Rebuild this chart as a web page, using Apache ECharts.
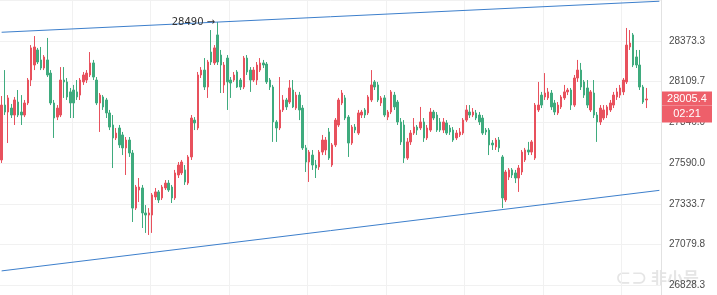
<!DOCTYPE html>
<html><head><meta charset="utf-8">
<script src="https://cdn.jsdelivr.net/npm/echarts@6/dist/echarts.min.js"></script>
<style>html,body{margin:0;padding:0;background:#fff;overflow:hidden;height:295px}#c{width:717px;height:326px}</style>
</head><body><div id="c"></div>
<script>
const opens = [27620,27967,27923,27948,27904,27986,27923,27904,27980,28125,
28220,28315,28252,28201,28252,28169,27980,27891,27904,28125,
28113,28050,28062,28050,28030,28113,28125,28157,28233,28125,
27980,28018,27999,27917,27841,27759,27822,27778,27696,27746,
27664,27316,27430,27443,27285,27272,27272,27386,27418,27380,
27443,27474,27449,27380,27525,27538,27557,27474,27639,27872,
27822,28157,28188,28081,28302,28233,28410,28283,28094,28264,
28125,28125,28176,28125,28081,28264,28188,28125,28125,28188,
28233,28226,28125,28081,27860,27822,27936,27999,27986,28062,
27948,28030,27948,27696,27607,27651,27588,27576,27670,27683,
27797,27588,27715,27841,27980,28012,27891,27727,27828,27790,
27904,27936,27917,27999,28113,28094,27980,28012,27891,27923,
28030,27986,27860,27841,27632,27734,27790,27828,27822,27860,
27759,27809,27923,27904,27860,27809,27854,27822,27809,27759,
27778,27790,27872,27923,27904,27917,27904,27885,27809,27809,
27727,27702,27746,27639,27367,27512,27557,27538,27506,27544,
27620,27683,27670,27632,27936,28030,28018,28012,28043,27980,
27917,27955,28012,28050,28062,27967,28138,28188,28113,28075,
27936,28043,27904,27860,27885,27904,27936,27967,28018,28030,
28050,28113,28334,28410,28271,28220,28081,27999];
const closes = [27967,27923,28012,27904,27999,27904,27904,27980,28125,28328,
28334,28239,28201,28271,28157,27980,27885,27948,28125,28113,
28018,27980,27980,28018,28125,28157,28169,28233,28144,27980,
28030,27955,27917,27828,27759,27790,27715,27696,27746,27664,
27316,27449,27449,27285,27272,27285,27399,27418,27367,27449,
27474,27430,27380,27538,27588,27607,27481,27639,27885,27854,
28157,28188,28081,28239,28239,28328,28239,28220,28220,28113,
28106,28157,28081,28081,28264,28176,28125,28188,28220,28233,
28220,28113,28081,27860,27822,27936,27999,27955,28075,27955,
28030,27936,27696,27607,27670,27588,27569,27670,27746,27746,
27632,27715,27872,27999,28043,27885,27727,27828,27809,27917,
27923,27904,28018,28094,28081,27999,28012,27904,27923,28050,
27955,27860,27734,27632,27734,27790,27828,27809,27860,27759,
27822,27923,27885,27809,27809,27860,27790,27797,27746,27790,
27797,27872,27936,27904,27923,27885,27860,27790,27797,27715,
27715,27746,27696,27380,27544,27557,27525,27506,27569,27670,
27683,27670,27734,27967,27967,27967,28043,28050,27955,27923,
27967,28018,28050,28062,27967,28138,28188,28081,28030,27967,
28050,27904,27860,27948,27936,27955,27980,28030,28050,28075,
28125,28346,28359,28220,28220,28081,27986,28005.4];
const lows = [27601,27904,27727,27885,27841,27891,27841,27891,27967,28087,
28188,28226,28188,28188,28144,27967,27759,27872,27891,28012,
27999,27885,27885,27999,27999,28094,28106,28144,28125,27967,
27797,27936,27885,27809,27569,27746,27696,27651,27525,27639,
27228,27304,27354,27190,27159,27146,27159,27367,27348,27367,
27430,27418,27348,27367,27506,27525,27462,27462,27620,27809,
27809,28138,28062,28012,28220,28220,28220,28043,28043,27936,
28012,28113,28075,28062,28068,28157,28050,28113,28094,28176,
28201,28100,28062,27734,27734,27809,27923,27936,27974,27948,
27936,27872,27683,27544,27481,27557,27506,27557,27651,27651,
27620,27576,27702,27828,27967,27872,27639,27715,27790,27778,
27885,27885,27904,27986,28062,27986,27961,27891,27872,27910,
27936,27841,27715,27601,27620,27715,27778,27778,27809,27734,
27746,27797,27872,27797,27797,27790,27778,27778,27734,27746,
27765,27778,27860,27885,27891,27872,27841,27778,27778,27651,
27683,27683,27670,27316,27354,27493,27506,27474,27418,27525,
27607,27651,27651,27620,27923,27948,27999,27999,27936,27904,
27904,27942,27999,28030,27936,27955,28113,28062,28012,27948,
27923,27885,27734,27841,27872,27885,27923,27948,27999,28012,
28030,28100,28315,28207,28201,28062,27974,27948];
const highs = [28024,28188,28030,27974,28018,28062,28030,27999,28138,28346,
28403,28328,28334,28283,28391,28188,27999,27967,28207,28207,
28138,28075,28094,28125,28138,28176,28188,28302,28252,28144,
28043,28030,28012,27936,27904,27822,27841,27797,27765,27765,
27683,27462,27506,27462,27335,27316,27411,27443,27430,27462,
27493,27493,27462,27557,27607,27620,27588,27651,27904,27891,
28176,28207,28264,28252,28441,28346,28492,28315,28239,28283,
28144,28176,28188,28138,28277,28283,28207,28207,28239,28264,
28252,28239,28138,28094,27872,28144,28030,28012,28125,28125,
28050,28050,27967,27715,27683,27683,27620,27683,27778,27765,
27822,27727,27885,28012,28062,28030,27904,27841,27847,27936,
27936,27948,28030,28188,28125,28113,28024,28030,27936,28062,
28050,27999,27885,27872,27759,27809,27885,27841,27955,27885,
27841,27948,27936,27923,27885,27885,27872,27841,27828,27809,
27822,27885,27967,27967,27948,27936,27923,27904,27822,27822,
27746,27759,27765,27651,27557,27569,27569,27557,27588,27683,
27696,27734,27746,27980,28113,28050,28169,28075,28062,27999,
27986,28030,28094,28075,28075,28157,28252,28233,28125,28125,
28062,28125,27923,27967,27967,27967,27999,28050,28075,28094,
28138,28454,28441,28422,28315,28315,28094,28075];

const yTickLabels = ['26828.3','27079.8','27333.7','27590.0','27846.0','28109.7','28373.3'];
const lastPrice = 28005.4;
const lastPriceText = '28005.4';
const lastTimeText = '02:21';
const peakText = '28490';
const upperTrend = [[0, 28427], [201, 28623]];
const lowerTrend = [[0, 26919], [201, 27428]];
const slotCount = 202;

const categories = Array.from({length: slotCount}, (_, i) => String(i));
const candles = opens.map((o, i) => [o, closes[i], lows[i], highs[i]]);
const peakIdx = highs.indexOf(Math.max(...highs));

const UP = '#e8515d', DOWN = '#3fab7e', TREND = '#3d7fcc';
const chart = echarts.init(document.getElementById('c'));
chart.setOption({
  animation: false,
  backgroundColor: '#fff',
  grid: {left: 0, right: 56, top: 0, bottom: 0},
  xAxis: {
    type: 'category', data: categories, boundaryGap: true,
    axisLine: {show: false}, axisTick: {show: false}, axisLabel: {show: false},
    splitLine: {show: true, interval: (i) => i % 24 === 22, lineStyle: {color: '#f1f1f1', width: 1}}
  },
  yAxis: {
    type: 'value', position: 'right', min: 26570.8, max: 28630.8, interval: 257.5,
    axisLine: {show: true, lineStyle: {color: '#e2e2e2'}}, axisTick: {show: false},
    splitLine: {show: true, lineStyle: {color: '#f1f1f1', width: 1}},
    axisLabel: {
      color: '#4a4a4a', fontSize: 10, margin: 8, fontFamily: 'Liberation Sans',
      formatter: (v) => { const k = Math.round((v - 26828.3) / 257.5); return yTickLabels[k] || ''; }
    }
  },
  series: [{
    type: 'candlestick', data: candles, barWidth: 2, clip: false,
    itemStyle: {color: UP, color0: DOWN, borderColor: UP, borderColor0: DOWN, borderWidth: 1},
    markLine: {
      silent: true, symbol: ['none', 'none'], animation: false,
      lineStyle: {color: TREND, width: 1, type: 'solid'},
      label: {show: false},
      data: [
        [{coord: upperTrend[0]}, {coord: upperTrend[1]}],
        [{coord: lowerTrend[0]}, {coord: lowerTrend[1]}],
        {yAxis: lastPrice, lineStyle: {color: 'rgba(0,0,0,0)', width: 1},
         label: {show: true, position: 'end', distance: 1, offset: [0, 8],
           formatter: '{p|' + lastPriceText + '}\n{t|' + lastTimeText + '}',
           rich: {
             p: {color: '#fff', backgroundColor: '#ee5f6a', width: 50, height: 14, lineHeight: 14, align: 'center', fontSize: 11, fontFamily: 'Liberation Sans'},
             t: {color: '#fff', backgroundColor: '#ee5f6a', width: 50, height: 17, lineHeight: 17, align: 'center', fontSize: 11, fontFamily: 'Liberation Sans'}
           }}}
      ]
    },
    markPoint: {
      silent: true, animation: false,
      data: [{coord: [peakIdx, highs[peakIdx]], symbol: 'circle', symbolSize: 1,
        itemStyle: {color: 'rgba(0,0,0,0)'},
        label: {show: true, position: 'left', distance: 2, formatter: peakText + ' \u2192', color: '#333', fontSize: 10, fontFamily: 'DejaVu Sans'}}]
    }
  }],
  graphic: [{type: 'text', right: 18, bottom: 40, silent: true,
    style: {text: '\u2282\u2283 非小号', fill: 'rgba(160,160,160,0.28)', font: 'bold 16px "Noto Sans CJK SC"'}}]
});
</script></body></html>
